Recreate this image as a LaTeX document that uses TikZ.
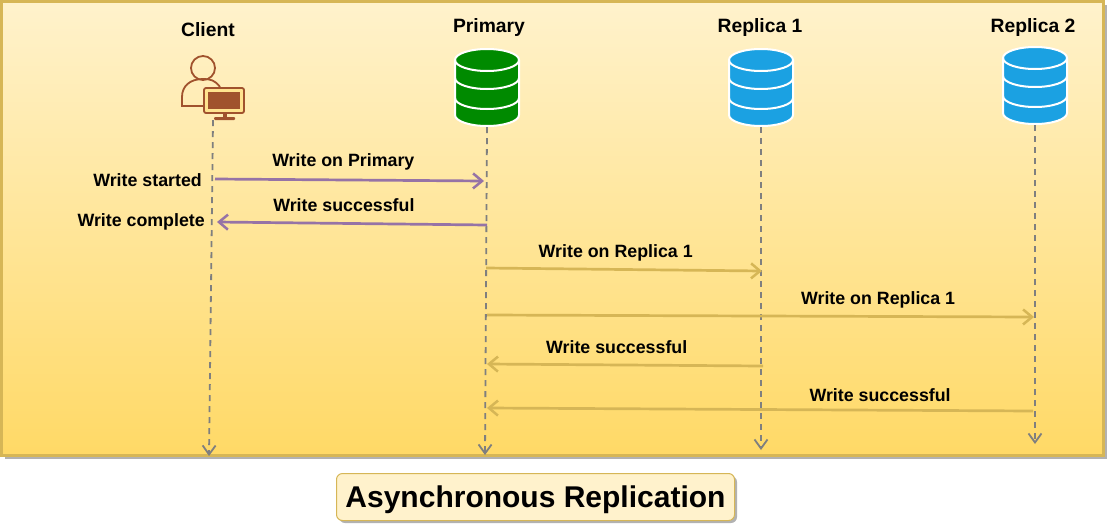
\documentclass[tikz,border=0pt]{standalone}
\usepackage{fontspec}
\setmainfont{Liberation Sans}
\usepackage{xcolor}
\usetikzlibrary{arrows.meta,shadows,positioning}

\definecolor{panelTop}{HTML}{FFF2CC}
\definecolor{panelBot}{HTML}{FFD966}
\definecolor{gold}{HTML}{D6B656}
\definecolor{purp}{HTML}{9673A6}
\definecolor{lifegray}{HTML}{7F7F7F}
\definecolor{brownish}{HTML}{A0522D}
\definecolor{dbgreen}{HTML}{008A00}
\definecolor{dbblue}{HTML}{1BA1E2}

\tikzset{
	lbl/.style={font=\fontsize{17.8}{20}\selectfont\bfseries, inner sep=0pt, text=black},
	head/.style={font=\fontsize{19.3}{22}\selectfont\bfseries, inner sep=0pt, text=black},
	lifeline/.style={draw=lifegray, line width=1.8pt, dash pattern=on 6pt off 5pt, -{Straight Barb[length=9pt,width=13pt,line width=1.8pt]}},
	msgp/.style={draw=purp, line width=2.7pt, -{Straight Barb[length=9pt,width=15pt,line width=2.5pt]}},
	msgg/.style={draw=gold, line width=2.7pt, -{Straight Barb[length=9pt,width=15pt,line width=2.5pt]}},
	dbicon/.pic={
		\path[draw=white, line width=2pt, fill=#1]
			(-32,-28) arc[start angle=180, end angle=360, x radius=32, y radius=11]
			-- (32,27) arc[start angle=0, end angle=180, x radius=32, y radius=11] -- cycle;
		\draw[white, line width=2pt] (-32,-28) arc[start angle=180, end angle=0, x radius=32, y radius=11];
		\draw[white, line width=2pt] (-32,-10) arc[start angle=180, end angle=0, x radius=32, y radius=11];
		\draw[white, line width=2pt] (-32,10) arc[start angle=180, end angle=0, x radius=32, y radius=11];
		\node[minimum width=64pt, minimum height=78pt, inner sep=0pt] (-box) at (0,0) {};
	},
	clienticon/.pic={
		\draw[brownish, line width=1.8pt] (-9,-20) circle[radius=12];
		\draw[brownish, line width=1.8pt] (8,-1) .. controls (3,-8) and (-2,-9) .. (-9,-9)
			.. controls (-22,-9) and (-30,-2) .. (-30,9) -- (-30,18) -- (-8,18);
		\draw[brownish, line width=1.8pt, rounded corners=2pt, fill=panelTop!40!panelBot] (-8,0) rectangle (32,25);
		\fill[brownish] (-4,4) rectangle (28,21);
		\fill[brownish] (11,25) rectangle (15,29);
		\fill[brownish, rounded corners=1pt] (2,29) rectangle (23,32);
		\node[minimum width=62pt, minimum height=62pt, inner sep=0pt] (-box) at (1,1) {};
	},
}

\begin{document}
\begin{tikzpicture}[x=1pt,y=-1pt]
	\useasboundingbox (0,0) rectangle (1107,525);
	
	% panel and title
	\node[draw=gold, line width=2.4pt, top color=panelTop, bottom color=panelBot, inner sep=0pt, minimum width=1102pt, minimum height=454pt,
		drop shadow={shadow xshift=3pt, shadow yshift=-3pt, fill=black!30, opacity=1}] (panel) at (552.5,228.5) {};
	\node[draw=gold, line width=1pt, fill=panelTop, rounded corners=6pt, inner sep=0pt, minimum width=398pt, minimum height=47pt,
		font=\fontsize{30}{32}\selectfont\bfseries,
		drop shadow={shadow xshift=2.5pt, shadow yshift=-2.5pt, fill=black!30, opacity=1}] (title) at (535.5,497) {\raisebox{-10.5pt}[0pt][0pt]{Asynchronous Replication}};
	
	% heads
	\node[head] (tclient)  at (208,30) {Client};
	\node[head] (tprimary) at (489,28) {Primary};
	\node[head] (trep1)    at (760,28) {Replica 1};
	\node[head] (trep2)    at (1033,28) {Replica 2};
	
	\pic (client)  at (212,88) {clienticon};
	\pic (primary) at (487,88) {dbicon=dbgreen};
	\pic (rep1)    at (761,88) {dbicon=dbblue};
	\pic (rep2)    at (1035,86) {dbicon=dbblue};
	
	% lifelines
	\coordinate (cEnd) at (209,456);
	\coordinate (pEnd) at (485,455);
	\coordinate (aEnd) at (761,450);
	\coordinate (bEnd) at (1035,444);
	\draw[lifeline] (client-box.south) -- (cEnd);
	\draw[lifeline] (primary-box.south) -- (pEnd);
	\draw[lifeline] (rep1-box.south) -- (aEnd);
	\draw[lifeline] (rep2-box.south) -- (bEnd);
	
	% ends of the messages
	\coordinate (m1a) at (215,179);
	\coordinate (m1b) at (484,181);
	\coordinate (m2a) at (487,225);
	\coordinate (m2b) at (217,222);
	\coordinate (m3a) at (486,268);
	\coordinate (m3b) at (762,271);
	\coordinate (m4a) at (487,315);
	\coordinate (m4b) at (1034,317);
	\coordinate (m5a) at (763,366);
	\coordinate (m5b) at (487,364);
	\coordinate (m6a) at (1033,411);
	\coordinate (m6b) at (487,408);
	
	\path
	(m1a) edge[msgp] node[lbl, pos=0.477, above=8pt] {Write on Primary} (m1b)
	(m2a) edge[msgp] node[lbl, pos=0.53, above=10pt] {Write successful} (m2b)
	(m3a) edge[msgg] node[lbl, pos=0.47, above=7pt] {Write on Replica 1} (m3b)
	(m4a) edge[msgg] node[lbl, pos=0.715, above=7pt] {Write on Replica 1} (m4b)
	(m5a) edge[msgg] node[lbl, pos=0.53, above=10pt] {Write successful} (m5b)
	(m6a) edge[msgg] node[lbl, pos=0.28, above=7pt] {Write successful} (m6b)
	;
	
	\node[lbl, left=13pt of m1a, yshift=-1pt] (started) {Write started};
	\node[lbl, left=12pt of m2b] (complete) {Write complete};
\end{tikzpicture}
\end{document}
